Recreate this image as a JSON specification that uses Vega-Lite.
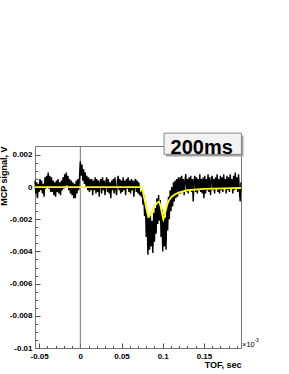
{
  "$schema": "https://vega.github.io/schema/vega-lite/v6.json",
  "width": 206,
  "height": 202,
  "autosize": {"type": "none"},
  "padding": {"left": 35, "top": 146, "right": 48, "bottom": 26},
  "background": "white",
  "config": {
    "view": {"stroke": "#777777", "strokeWidth": 1},
    "axis": {
      "grid": false,
      "domain": false,
      "tickColor": "#555555",
      "tickWidth": 1,
      "labelFont": "Liberation Sans",
      "labelFontWeight": "bold",
      "labelFontSize": 8,
      "labelColor": "black",
      "titleFont": "Liberation Sans",
      "titleFontWeight": "bold",
      "titleFontSize": 9,
      "titleColor": "black",
      "labelOverlap": false,
      "labelFlush": false
    }
  },
  "resolve": {"axis": {"x": "independent", "y": "independent"}},
  "datasets": {
    "signal": [
      {"t":-0.055,"v":0.0004},{"t":-0.054,"v":-0.0004},{"t":-0.053,"v":0.0003},{"t":-0.052,"v":-0.0007},{"t":-0.051,"v":0.0002},
      {"t":-0.05,"v":-0.0003},{"t":-0.049,"v":0.0005},{"t":-0.048,"v":-0.0002},{"t":-0.047,"v":0.0004},{"t":-0.046,"v":-0.0004},
      {"t":-0.045,"v":0.0002},{"t":-0.044,"v":-0.0006},{"t":-0.043,"v":0.0006},{"t":-0.042,"v":-0.0001},{"t":-0.041,"v":0.0007},
      {"t":-0.04,"v":0},{"t":-0.039,"v":0.0009},{"t":-0.038,"v":-0.0001},{"t":-0.037,"v":0.0007},{"t":-0.036,"v":-0.0003},
      {"t":-0.035,"v":0.0006},{"t":-0.034,"v":-0.0003},{"t":-0.033,"v":0.0004},{"t":-0.032,"v":-0.0005},{"t":-0.031,"v":0.0003},
      {"t":-0.03,"v":-0.0006},{"t":-0.029,"v":0.0004},{"t":-0.028,"v":-0.0003},{"t":-0.027,"v":0.0005},{"t":-0.026,"v":-0.0004},
      {"t":-0.025,"v":0.0003},{"t":-0.024,"v":-0.0005},{"t":-0.023,"v":0.0004},{"t":-0.022,"v":-0.0002},{"t":-0.021,"v":0.0006},
      {"t":-0.02,"v":-0.0001},{"t":-0.019,"v":0.0008},{"t":-0.018,"v":0},{"t":-0.017,"v":0.0009},{"t":-0.016,"v":0.0001},
      {"t":-0.015,"v":0.0007},{"t":-0.014,"v":-0.0002},{"t":-0.013,"v":0.0005},{"t":-0.012,"v":-0.0004},{"t":-0.011,"v":0.0004},
      {"t":-0.01,"v":-0.0005},{"t":-0.009,"v":0.0003},{"t":-0.008,"v":-0.0007},{"t":-0.007,"v":0.0002},{"t":-0.006,"v":-0.0007},
      {"t":-0.005,"v":0.0004},{"t":-0.004,"v":-0.0004},{"t":-0.003,"v":0.0005},{"t":-0.002,"v":-0.0002},{"t":-0.001,"v":0.0006},
      {"t":0,"v":0.0016},{"t":0.001,"v":0.0007},{"t":0.002,"v":0.0014},{"t":0.003,"v":0.0004},{"t":0.004,"v":0.0011},
      {"t":0.005,"v":0.0002},{"t":0.006,"v":0.0009},{"t":0.007,"v":0},{"t":0.008,"v":0.0007},{"t":0.009,"v":-0.0002},
      {"t":0.01,"v":0.0006},{"t":0.011,"v":-0.0003},{"t":0.012,"v":0.0005},{"t":0.013,"v":-0.0002},{"t":0.014,"v":0.0005},
      {"t":0.015,"v":-0.0005},{"t":0.016,"v":0.0004},{"t":0.017,"v":-0.0002},{"t":0.018,"v":0.0006},{"t":0.019,"v":-0.0004},
      {"t":0.02,"v":0.0005},{"t":0.021,"v":-0.0003},{"t":0.022,"v":0.0004},{"t":0.023,"v":-0.0006},{"t":0.024,"v":0.0003},
      {"t":0.025,"v":0.0005},{"t":0.026,"v":-0.0004},{"t":0.027,"v":0.0006},{"t":0.028,"v":-0.0002},{"t":0.029,"v":0.0004},
      {"t":0.03,"v":-0.0005},{"t":0.031,"v":0.0003},{"t":0.032,"v":0.0006},{"t":0.033,"v":-0.0003},{"t":0.034,"v":0.0005},
      {"t":0.035,"v":-0.0004},{"t":0.036,"v":0.0003},{"t":0.037,"v":-0.0007},{"t":0.038,"v":0.0004},{"t":0.039,"v":-0.0002},
      {"t":0.04,"v":0.0005},{"t":0.041,"v":-0.0004},{"t":0.042,"v":0.0006},{"t":0.043,"v":-0.0001},{"t":0.044,"v":-0.0005},
      {"t":0.045,"v":0.0004},{"t":0.046,"v":0.0007},{"t":0.047,"v":-0.0002},{"t":0.048,"v":0.0005},{"t":0.049,"v":-0.0004},
      {"t":0.05,"v":0.0004},{"t":0.051,"v":-0.0003},{"t":0.052,"v":0.0006},{"t":0.053,"v":-0.0002},{"t":0.054,"v":0.0004},
      {"t":0.055,"v":-0.0005},{"t":0.056,"v":0.0005},{"t":0.057,"v":-0.0001},{"t":0.058,"v":0.0006},{"t":0.059,"v":-0.0003},
      {"t":0.06,"v":0.0004},{"t":0.061,"v":-0.0004},{"t":0.062,"v":0.0005},{"t":0.063,"v":-0.0002},{"t":0.064,"v":0.0004},
      {"t":0.065,"v":-0.0006},{"t":0.066,"v":0.0003},{"t":0.067,"v":0.0005},{"t":0.068,"v":-0.0003},{"t":0.069,"v":0.0004},
      {"t":0.07,"v":-0.0004},{"t":0.071,"v":0.0003},{"t":0.072,"v":-0.0005},{"t":0.073,"v":-0.0003},{"t":0.074,"v":-0.0006},
      {"t":0.075,"v":-0.0002},{"t":0.076,"v":-0.0011},{"t":0.077,"v":-0.0005},{"t":0.078,"v":-0.0018},{"t":0.079,"v":-0.0009},
      {"t":0.08,"v":-0.0031},{"t":0.081,"v":-0.0015},{"t":0.082,"v":-0.0042},{"t":0.083,"v":-0.0019},{"t":0.084,"v":-0.0039},
      {"t":0.085,"v":-0.0017},{"t":0.086,"v":-0.0037},{"t":0.087,"v":-0.0021},{"t":0.088,"v":-0.0041},{"t":0.089,"v":-0.0016},
      {"t":0.09,"v":-0.0034},{"t":0.091,"v":-0.0013},{"t":0.092,"v":-0.0029},{"t":0.093,"v":-0.0007},{"t":0.094,"v":-0.0023},
      {"t":0.095,"v":-0.0005},{"t":0.096,"v":-0.0021},{"t":0.097,"v":-0.0008},{"t":0.098,"v":-0.0031},{"t":0.099,"v":-0.0014},
      {"t":0.1,"v":-0.004},{"t":0.101,"v":-0.0017},{"t":0.102,"v":-0.0037},{"t":0.103,"v":-0.0019},{"t":0.104,"v":-0.0039},
      {"t":0.105,"v":-0.0011},{"t":0.106,"v":-0.0027},{"t":0.107,"v":-0.0006},{"t":0.108,"v":-0.002},{"t":0.109,"v":-0.0002},
      {"t":0.11,"v":-0.0015},{"t":0.111,"v":0},{"t":0.112,"v":-0.0012},{"t":0.113,"v":0.0003},{"t":0.114,"v":-0.0009},
      {"t":0.115,"v":0.0004},{"t":0.116,"v":-0.0007},{"t":0.117,"v":0.0005},{"t":0.118,"v":-0.0006},{"t":0.119,"v":0.0006},
      {"t":0.12,"v":-0.0004},{"t":0.121,"v":0.0006},{"t":0.122,"v":-0.0004},{"t":0.123,"v":0.0007},{"t":0.124,"v":-0.0003},
      {"t":0.125,"v":0.0005},{"t":0.126,"v":-0.0005},{"t":0.127,"v":0.0004},{"t":0.128,"v":0.0008},{"t":0.129,"v":-0.0003},
      {"t":0.13,"v":0.0005},{"t":0.131,"v":-0.0004},{"t":0.132,"v":0.0006},{"t":0.133,"v":-0.0002},{"t":0.134,"v":0.0007},
      {"t":0.135,"v":-0.0003},{"t":0.136,"v":0.0005},{"t":0.137,"v":-0.0009},{"t":0.138,"v":0.0004},{"t":0.139,"v":0.0007},
      {"t":0.14,"v":-0.0003},{"t":0.141,"v":0.0006},{"t":0.142,"v":-0.0004},{"t":0.143,"v":0.0005},{"t":0.144,"v":-0.0002},
      {"t":0.145,"v":0.0008},{"t":0.146,"v":-0.0003},{"t":0.147,"v":0.0005},{"t":0.148,"v":-0.0004},{"t":0.149,"v":0.0006},
      {"t":0.15,"v":-0.0007},{"t":0.151,"v":0.0007},{"t":0.152,"v":-0.0004},{"t":0.153,"v":0.0005},{"t":0.154,"v":-0.0002},
      {"t":0.155,"v":0.0008},{"t":0.156,"v":-0.0003},{"t":0.157,"v":0.0006},{"t":0.158,"v":-0.0005},{"t":0.159,"v":0.0004},
      {"t":0.16,"v":0.0007},{"t":0.161,"v":-0.0002},{"t":0.162,"v":0.0005},{"t":0.163,"v":-0.0004},{"t":0.164,"v":0.0006},
      {"t":0.165,"v":-0.0001},{"t":0.166,"v":0.0008},{"t":0.167,"v":-0.0003},{"t":0.168,"v":0.0005},{"t":0.169,"v":-0.0004},
      {"t":0.17,"v":0.0007},{"t":0.171,"v":-0.0002},{"t":0.172,"v":0.0006},{"t":0.173,"v":-0.0003},{"t":0.174,"v":0.0008},
      {"t":0.175,"v":-0.0001},{"t":0.176,"v":0.0005},{"t":0.177,"v":-0.0004},{"t":0.178,"v":0.0007},{"t":0.179,"v":-0.0002},
      {"t":0.18,"v":0.0006},{"t":0.181,"v":-0.0003},{"t":0.182,"v":0.0008},{"t":0.183,"v":-0.0001},{"t":0.184,"v":0.0005},
      {"t":0.185,"v":-0.0004},{"t":0.186,"v":0.0007},{"t":0.187,"v":-0.0002},{"t":0.188,"v":0.0009},{"t":0.189,"v":-0.0001},
      {"t":0.19,"v":0.0006},{"t":0.191,"v":-0.0003},{"t":0.192,"v":0.0008},{"t":0.193,"v":-0.0002},{"t":0.194,"v":-0.0009},
      {"t":0.195,"v":0.0003}
    ],
    "fit": [
      {"t":-0.055,"v":0},{"t":0.073,"v":0},{"t":0.0745,"v":-0.00005},{"t":0.076,"v":-0.0003},{"t":0.078,"v":-0.0008},
      {"t":0.08,"v":-0.0013},{"t":0.0825,"v":-0.00185},{"t":0.084,"v":-0.0018},{"t":0.087,"v":-0.0015},{"t":0.09,"v":-0.0012},
      {"t":0.093,"v":-0.001},{"t":0.0955,"v":-0.0009},{"t":0.097,"v":-0.0011},{"t":0.099,"v":-0.0016},{"t":0.1007,"v":-0.002},
      {"t":0.102,"v":-0.0018},{"t":0.104,"v":-0.0014},{"t":0.106,"v":-0.001},{"t":0.108,"v":-0.0008},{"t":0.111,"v":-0.0006},
      {"t":0.115,"v":-0.00045},{"t":0.12,"v":-0.00033},{"t":0.13,"v":-0.0002},{"t":0.15,"v":-0.00012},{"t":0.175,"v":-0.00008},
      {"t":0.195,"v":-0.00006}
    ]
  },
  "layer": [
    {
      "data": {"values": [{}]},
      "mark": {"type": "rule", "color": "#777777", "strokeWidth": 1},
      "encoding": {"x": {"datum": 0, "type": "quantitative", "scale": {"domain": [-0.055, 0.195], "nice": false, "zero": false}, "axis": null}}
    },
    {
      "data": {"name": "signal"},
      "mark": {"type": "line", "color": "black", "strokeWidth": 1.4},
      "encoding": {
        "x": {
          "field": "t", "type": "quantitative",
          "scale": {"domain": [-0.055, 0.195], "nice": false, "zero": false},
          "axis": {
            "orient": "bottom",
            "values": [-0.05, 0, 0.05, 0.1, 0.15],
            "ticks": false,
            "labelExpr": "datum.value + ''",
            "labelPadding": 4,
            "title": "TOF, sec",
            "titleAnchor": "end",
            "titlePadding": 0
          }
        },
        "y": {
          "field": "v", "type": "quantitative",
          "scale": {"domain": [-0.01, 0.00255], "nice": false, "zero": false},
          "axis": {
            "orient": "left",
            "values": [-0.01, -0.008, -0.006, -0.004, -0.002, 0, 0.002],
            "ticks": false,
            "labelExpr": "datum.value + ''",
            "labelPadding": 3,
            "title": "MCP signal, V",
            "titleAnchor": "end",
            "titlePadding": 1
          }
        }
      }
    },
    {
      "data": {"name": "fit"},
      "mark": {"type": "line", "color": "#ffff00", "strokeWidth": 1.8},
      "encoding": {
        "x": {
          "field": "t", "type": "quantitative",
          "scale": {"domain": [-0.055, 0.195], "nice": false, "zero": false},
          "axis": {"orient": "bottom", "values": [-0.05, 0, 0.05, 0.1, 0.15], "labels": false, "tickSize": 5, "offset": -5, "title": null}
        },
        "y": {
          "field": "v", "type": "quantitative",
          "scale": {"domain": [-0.01, 0.00255], "nice": false, "zero": false},
          "axis": {"orient": "left", "values": [-0.01, -0.008, -0.006, -0.004, -0.002, 0, 0.002], "labels": false, "tickSize": 5, "offset": -5, "title": null}
        }
      }
    },
    {
      "data": {"values": [{}]},
      "mark": {"type": "rect", "fill": "#a0a0a0"},
      "encoding": {
        "x": {
          "datum": 0.104, "type": "quantitative",
          "axis": {"orient": "bottom", "values": [-0.04,-0.03,-0.02,-0.01,0.01,0.02,0.03,0.04,0.06,0.07,0.08,0.09,0.11,0.12,0.13,0.14,0.16,0.17,0.18,0.19], "labels": false, "tickSize": 2.5, "offset": -2.5, "title": null}
        },
        "x2": {"datum": 0.198},
        "y": {
          "datum": 0.0032, "type": "quantitative",
          "axis": {"orient": "left", "values": [-0.0095,-0.009,-0.0085,-0.0075,-0.007,-0.0065,-0.0055,-0.005,-0.0045,-0.0035,-0.003,-0.0025,-0.0015,-0.001,-0.0005,0.0005,0.001,0.0015], "labels": false, "tickSize": 2.5, "offset": -2.5, "title": null}
        },
        "y2": {"datum": 0.00189}
      }
    },
    {
      "data": {"values": [{}]},
      "mark": {"type": "rect", "fill": "#f2f2f2", "stroke": "#888888", "strokeWidth": 1},
      "encoding": {
        "x": {"datum": 0.1016, "type": "quantitative", "axis": null}, "x2": {"datum": 0.1955},
        "y": {"datum": 0.00335, "type": "quantitative", "axis": null}, "y2": {"datum": 0.00203}
      }
    },
    {
      "data": {"values": [{}]},
      "mark": {"type": "text", "text": "200ms", "font": "Liberation Sans", "fontWeight": "bold", "fontSize": 20, "align": "center", "baseline": "middle", "color": "black"},
      "encoding": {
        "x": {"datum": 0.1473, "type": "quantitative", "axis": null},
        "y": {"datum": 0.00244, "type": "quantitative", "axis": null}
      }
    },
    {
      "data": {"values": [{}]},
      "mark": {"type": "text", "text": "×10", "font": "Liberation Sans", "fontSize": 7.5, "align": "left", "baseline": "alphabetic", "dx": 1, "dy": -1, "color": "black"},
      "encoding": {
        "x": {"datum": 0.195, "type": "quantitative", "axis": null},
        "y": {"datum": -0.01, "type": "quantitative", "axis": null}
      }
    },
    {
      "data": {"values": [{}]},
      "mark": {"type": "text", "text": "-3", "font": "Liberation Sans", "fontSize": 5.5, "align": "left", "baseline": "alphabetic", "dx": 13, "dy": -6, "color": "black"},
      "encoding": {
        "x": {"datum": 0.195, "type": "quantitative", "axis": null},
        "y": {"datum": -0.01, "type": "quantitative", "axis": null}
      }
    }
  ]
}
